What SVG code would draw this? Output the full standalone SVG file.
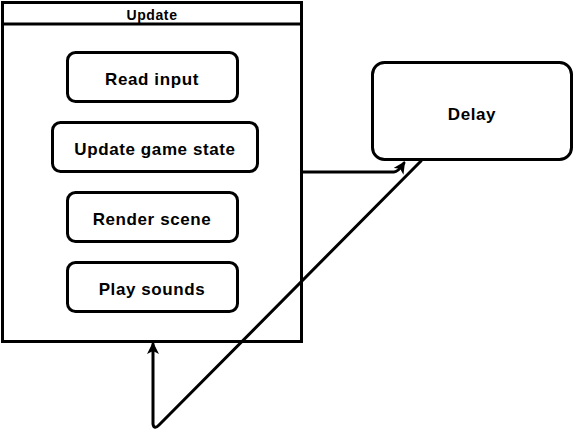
<svg xmlns="http://www.w3.org/2000/svg" width="574" height="442" viewBox="0 0 574 442">
<style>
.box{fill:#fff;stroke:#000;stroke-width:3}
.t{font-family:"Liberation Sans",Arial,sans-serif;font-size:17px;font-weight:bold;letter-spacing:0.6px;fill:#000;text-anchor:middle;dominant-baseline:central}
.edge{fill:none;stroke:#000;stroke-width:3;stroke-linejoin:round;stroke-linecap:round}
</style>
<defs>
<marker id="arr" viewBox="0 0 12 12" refX="10" refY="6" markerWidth="12" markerHeight="12" markerUnits="userSpaceOnUse" orient="auto">
<path d="M0,0 L12,6 L0,12 L3,6 Z" fill="#000"/>
</marker>
</defs>
<rect width="574" height="442" fill="#fff"/>
<g id="update">
<rect class="box" x="2.5" y="2.5" width="299" height="339"/>
<line x1="2.5" y1="24" x2="301.5" y2="24" stroke="#000" stroke-width="3"/>
<text class="t" x="152" y="15" style="font-size:14px">Update</text>
</g>
<g id="read-input">
<rect class="box" x="67.5" y="52.5" width="170" height="49" rx="8"/>
<text class="t" x="152" y="79">Read input</text>
</g>
<g id="update-game-state">
<rect class="box" x="52.5" y="122.5" width="205" height="49" rx="8"/>
<text class="t" x="155" y="149">Update game state</text>
</g>
<g id="render-scene">
<rect class="box" x="67.5" y="192.5" width="170" height="49" rx="8"/>
<text class="t" x="152" y="219">Render scene</text>
</g>
<g id="play-sounds">
<rect class="box" x="67.5" y="262.5" width="170" height="49" rx="8"/>
<text class="t" x="152" y="289">Play sounds</text>
</g>
<g id="delay">
<rect class="box" x="372.5" y="62.5" width="199" height="97" rx="12"/>
<text class="t" x="472" y="114">Delay</text>
</g>
<g id="connectors">
<path class="edge" d="M302,172 L394,172 Q398,172 404,163" marker-end="url(#arr)"/>
<path class="edge" d="M421,161 L159,425 Q154,430 153,424 L153,344" marker-end="url(#arr)"/>
</g>
</svg>
